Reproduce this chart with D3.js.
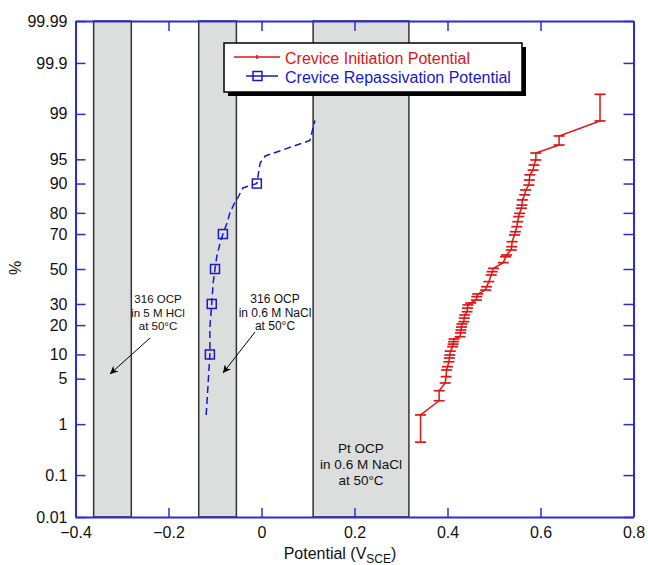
<!DOCTYPE html>
<html>
<head>
<meta charset="utf-8">
<script src="https://cdn.jsdelivr.net/npm/d3@7"></script>
<style>
  body { margin: 0; background: #fff; }
  text { font-family: "Liberation Sans", Arial, sans-serif; }
</style>
</head>
<body>
<svg id="chart" width="648" height="565"></svg>
<script>
// ---- data ----
const xTicks = [-0.4, -0.2, 0, 0.2, 0.4, 0.6, 0.8];
const pctTicks = [0.01, 0.1, 1, 5, 10, 20, 30, 50, 70, 80, 90, 95, 99, 99.9, 99.99];
const pctLabels = ["0.01", "0.1", "1", "5", "10", "20", "30", "50", "70", "80", "90", "95", "99", "99.9", "99.99"];

// OCP ranges (V SCE): 316 in 5 M HCl, 316 in 0.6 M NaCl, Pt in 0.6 M NaCl
const ocpBands = [[-0.361, -0.280], [-0.135, -0.054], [0.111, 0.317]];

// crevice initiation potential [V, cumulative %] (each vertex carries an error-bar cap)
const initiation = [
  [0.342, 0.47], [0.342, 1.43], [0.382, 2.41], [0.382, 3.40], [0.395, 4.37], [0.397, 5.32],
  [0.398, 6.5], [0.400, 7.15], [0.403, 8.2], [0.404, 9.1], [0.405, 9.85], [0.406, 10.9],
  [0.411, 12.2], [0.412, 13.0], [0.413, 13.8], [0.414, 14.7], [0.427, 15.5], [0.428, 16.9],
  [0.429, 18.0], [0.430, 19.2], [0.431, 20.5], [0.435, 21.5], [0.436, 23.1], [0.437, 24.5],
  [0.442, 26.1], [0.443, 27.9], [0.444, 29.5], [0.450, 30.5], [0.462, 32.1], [0.463, 33.9],
  [0.465, 35.4], [0.482, 37.6], [0.484, 39.5], [0.489, 42.5], [0.494, 46.4], [0.496, 48.4],
  [0.499, 50.4], [0.520, 53.8], [0.525, 57.3], [0.527, 58.3], [0.537, 61.2], [0.538, 63.1],
  [0.539, 65.9], [0.544, 69.5], [0.546, 71.2], [0.549, 73.7], [0.551, 76.1], [0.553, 78.4],
  [0.555, 79.8], [0.559, 81.9], [0.560, 83.1], [0.561, 85.0], [0.566, 86.7], [0.568, 88.2],
  [0.575, 89.6], [0.576, 90.9], [0.577, 92.1], [0.584, 93.1], [0.586, 94.05], [0.590, 94.9],
  [0.590, 95.9], [0.640, 96.85], [0.640, 97.7], [0.728, 98.68], [0.728, 99.56]
];

// crevice repassivation potential [V, cumulative %]
const repassivation = [
  [-0.119, 1.43], [-0.115, 4.1], [-0.111, 10], [-0.111, 19.2], [-0.107, 30], [-0.104, 41.7],
  [-0.100, 50], [-0.096, 57.7], [-0.089, 65.2], [-0.083, 70], [-0.074, 75.5], [-0.068, 80],
  [-0.057, 84.2], [-0.051, 85.7], [-0.040, 88.8], [-0.010, 90], [-0.003, 94.4], [0.008, 95.5],
  [0.104, 97.3], [0.115, 98.7]
];
const repassMarked = [[-0.111, 10], [-0.107, 30], [-0.100, 50], [-0.083, 70], [-0.010, 90]];

// ---- normal quantile (probability axis) ----
function probit(p) {
  const a = [-3.969683028665376e+01, 2.209460984245205e+02, -2.759285104469687e+02, 1.383577518672690e+02, -3.066479806614716e+01, 2.506628277459239e+00];
  const b = [-5.447609879822406e+01, 1.615858368580409e+02, -1.556989798598866e+02, 6.680131188771972e+01, -1.328068155288572e+01];
  const c = [-7.784894002430293e-03, -3.223964580411365e-01, -2.400758277161838e+00, -2.549732539343734e+00, 4.374664141464968e+00, 2.938163982698783e+00];
  const d = [7.784695709041462e-03, 3.224671290700398e-01, 2.445134137142996e+00, 3.754408661907416e+00];
  const pl = 0.02425;
  let q, r;
  if (p < pl) {
    q = Math.sqrt(-2 * Math.log(p));
    return (((((c[0]*q+c[1])*q+c[2])*q+c[3])*q+c[4])*q+c[5]) / ((((d[0]*q+d[1])*q+d[2])*q+d[3])*q+1);
  }
  if (p > 1 - pl) {
    q = Math.sqrt(-2 * Math.log(1 - p));
    return -(((((c[0]*q+c[1])*q+c[2])*q+c[3])*q+c[4])*q+c[5]) / ((((d[0]*q+d[1])*q+d[2])*q+d[3])*q+1);
  }
  q = p - 0.5; r = q * q;
  return (((((a[0]*r+a[1])*r+a[2])*r+a[3])*r+a[4])*r+a[5])*q / (((((b[0]*r+b[1])*r+b[2])*r+b[3])*r+b[4])*r+1);
}
const z = pct => probit(pct / 100);

// ---- layout ----
const plotL = 75.5, plotR = 633.5, plotT = 21, plotB = 517;
const axisBlue = "#2b2bdc", red = "#e01515", blue = "#1818cc";

const svg = d3.select("#chart");
const x = d3.scaleLinear().domain([-0.4, 0.8]).range([plotL, plotR]);
const y = d3.scaleLinear().domain([z(0.01), z(99.99)]).range([plotB, plotT]);
const yp = pct => y(z(pct));

// shaded OCP bands
svg.append("g").selectAll("rect").data(ocpBands).join("rect")
  .attr("x", d => x(d[0])).attr("y", plotT)
  .attr("width", d => x(d[1]) - x(d[0])).attr("height", plotB - plotT)
  .attr("fill", "#dcdedd").attr("stroke", "#333").attr("stroke-width", 1.5);

// axes (ticks point inward on all four sides)
const zTicks = pctTicks.map(z);
const styleAxis = g => {
  g.selectAll("path.domain").attr("stroke", axisBlue).attr("stroke-width", 2);
  g.selectAll(".tick line").attr("stroke", axisBlue).attr("stroke-width", 1.5);
  g.selectAll("text").attr("fill", "#111").style("font-size", "16px")
    .style("font-family", '"Liberation Sans", Arial, sans-serif');
};
svg.append("g").attr("transform", `translate(0,${plotB})`)
  .call(d3.axisBottom(x).tickValues(xTicks).tickSizeInner(-9).tickSizeOuter(0).tickPadding(10)
    .tickFormat(d => d === 0 ? "0" : d3.format(".1f")(d)))
  .call(styleAxis);
svg.append("g").attr("transform", `translate(0,${plotT})`)
  .call(d3.axisTop(x).tickValues(xTicks).tickSizeInner(-10).tickSizeOuter(0).tickFormat(""))
  .call(styleAxis);
svg.append("g").attr("transform", `translate(${plotL},0)`)
  .call(d3.axisLeft(y).tickValues(zTicks).tickSizeInner(-10).tickSizeOuter(0).tickPadding(8)
    .tickFormat((d, i) => pctLabels[i]))
  .call(styleAxis);
svg.append("g").attr("transform", `translate(${plotR},0)`)
  .call(d3.axisRight(y).tickValues(zTicks).tickSizeInner(-10).tickSizeOuter(0).tickFormat(""))
  .call(styleAxis);

// axis titles
const xt = svg.append("text").attr("x", 340).attr("y", 559).attr("text-anchor", "middle")
  .attr("fill", "#111").style("font-size", "16px");
xt.append("tspan").text("Potential (V");
xt.append("tspan").attr("dy", 4).style("font-size", "12px").text("SCE");
xt.append("tspan").attr("dy", -4).text(")");
svg.append("text").attr("transform", "translate(21,268) rotate(-90)").attr("text-anchor", "middle")
  .attr("fill", "#111").style("font-size", "16px").text("%");

// repassivation: dashed line + hollow squares
const line = d3.line().x(d => x(d[0])).y(d => yp(d[1]));
svg.append("path").datum(repassivation).attr("d", line)
  .attr("fill", "none").attr("stroke", blue).attr("stroke-width", 1.5).attr("stroke-dasharray", "7,4");
svg.append("g").selectAll("rect").data(repassMarked).join("rect")
  .attr("x", d => x(d[0]) - 4.5).attr("y", d => yp(d[1]) - 4.5)
  .attr("width", 9).attr("height", 9)
  .attr("fill", "none").attr("stroke", blue).attr("stroke-width", 1.5);

// initiation: solid line with error-bar caps
svg.append("path").datum(initiation).attr("d", line)
  .attr("fill", "none").attr("stroke", red).attr("stroke-width", 1.5);
svg.append("g").selectAll("line").data(initiation).join("line")
  .attr("x1", d => x(d[0]) - 5.5).attr("x2", d => x(d[0]) + 5.5)
  .attr("y1", d => yp(d[1])).attr("y2", d => yp(d[1]))
  .attr("stroke", red).attr("stroke-width", 1.7);

// legend
const lg = svg.append("g");
lg.append("rect").attr("x", 228).attr("y", 47).attr("width", 298).attr("height", 49).attr("fill", "#000");
lg.append("rect").attr("x", 224).attr("y", 43).attr("width", 298).attr("height", 49)
  .attr("fill", "#fff").attr("stroke", "#000").attr("stroke-width", 1.5);
lg.append("line").attr("x1", 234).attr("x2", 280).attr("y1", 57).attr("y2", 57)
  .attr("stroke", red).attr("stroke-width", 1.5);
lg.append("line").attr("x1", 257).attr("x2", 257).attr("y1", 55).attr("y2", 59)
  .attr("stroke", red).attr("stroke-width", 1.5);
lg.append("line").attr("x1", 246).attr("x2", 278).attr("y1", 76).attr("y2", 76)
  .attr("stroke", blue).attr("stroke-width", 1.5);
lg.append("rect").attr("x", 253).attr("y", 71.5).attr("width", 9).attr("height", 9)
  .attr("fill", "none").attr("stroke", blue).attr("stroke-width", 1.5);
lg.append("text").attr("x", 285).attr("y", 64).attr("fill", red).style("font-size", "16px")
  .text("Crevice Initiation Potential");
lg.append("text").attr("x", 285).attr("y", 83).attr("fill", blue).style("font-size", "16px")
  .text("Crevice Repassivation Potential");

// annotations
svg.append("defs").append("marker").attr("id", "arrow")
  .attr("viewBox", "0 0 10 10").attr("refX", 10).attr("refY", 5)
  .attr("markerWidth", 9).attr("markerHeight", 8).attr("markerUnits", "userSpaceOnUse")
  .attr("orient", "auto")
  .append("path").attr("d", "M0,0 L10,5 L0,10 L3,5 z").attr("fill", "#000");

const notes = [
  { cx: 158, y0: 303, dy: 13.5, size: 11.5, lines: ["316 OCP", "in 5 M HCl", "at 50°C"], arrow: [150, 338, 110, 374] },
  { cx: 275, y0: 303, dy: 13.5, size: 12, lines: ["316 OCP", "in 0.6 M NaCl", "at 50°C"], arrow: [255, 332, 223, 373] },
  { cx: 361, y0: 453, dy: 16, size: 13.5, lines: ["Pt OCP", "in 0.6 M NaCl", "at 50°C"], arrow: null }
];
notes.forEach(n => {
  n.lines.forEach((t, i) => {
    svg.append("text").attr("x", n.cx).attr("y", n.y0 + i * n.dy).attr("text-anchor", "middle")
      .attr("fill", "#111").style("font-size", n.size + "px").text(t);
  });
  if (n.arrow) {
    svg.append("line").attr("x1", n.arrow[0]).attr("y1", n.arrow[1]).attr("x2", n.arrow[2]).attr("y2", n.arrow[3])
      .attr("stroke", "#000").attr("stroke-width", 1).attr("marker-end", "url(#arrow)");
  }
});
</script>
</body>
</html>
